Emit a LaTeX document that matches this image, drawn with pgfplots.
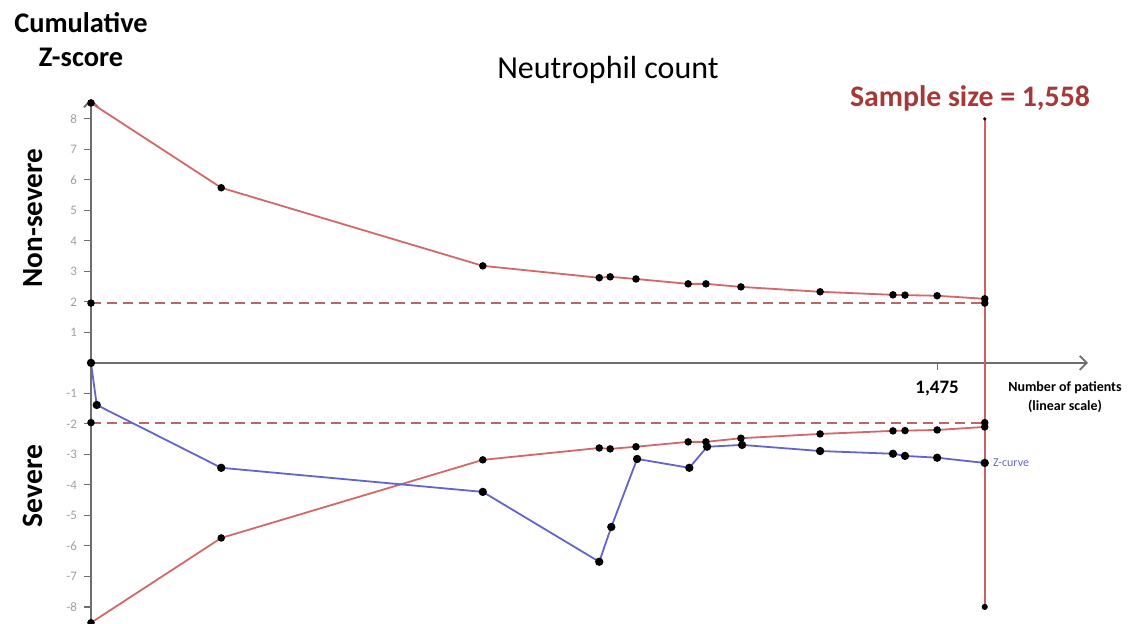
\documentclass[border=0pt]{standalone}
\usepackage{pgfplots}
\pgfplotsset{compat=1.18}
\usepackage{fontspec}
\setmainfont{Carlito}
\usetikzlibrary{arrows.meta}
\definecolor{bound}{RGB}{212,104,104}
\definecolor{dashred}{RGB}{188,104,104}
\definecolor{zc}{RGB}{100,100,206}
\definecolor{vline}{RGB}{204,96,96}
\definecolor{ss}{RGB}{166,56,56}
\definecolor{axgray}{RGB}{110,110,110}
\begin{document}
\begin{tikzpicture}
\useasboundingbox (0,0) rectangle (568.5pt,312pt);
\begin{axis}[
  at={(45.5pt,0pt)}, anchor=south west,
  scale only axis, width=498.5pt, height=262.5pt,
  xmin=0, xmax=1738, ymin=-8.56, ymax=8.65,
  axis lines=middle, clip=false, enlargelimits=false,
  axis line style={-{Straight Barb[length=3.5pt,width=7pt]}, draw=axgray, line width=0.9pt},
  ytick={-8,-7,-6,-5,-4,-3,-2,-1,1,2,3,4,5,6,7,8},
  xtick={1475}, xticklabels={\textbf{1,475}},
  xticklabel style={font=\fontsize{9.5}{10}\selectfont, yshift=-2pt},
  yticklabel style={font=\fontsize{6.5}{7}\selectfont, text=gray!75},
  /pgf/number format/assume math mode=true,
  tick align=outside, major tick length=3.5pt,
  tick style={draw=axgray, line width=0.6pt},
]
% dashed significance lines
\addplot[dashred, line width=0.9pt, dash pattern=on 5pt off 3pt, mark=*, mark size=1.4pt, mark options={solid, fill=black, draw=black}]
  coordinates {(0,1.96) (1558,1.96)};
\addplot[dashred, line width=0.9pt, dash pattern=on 5pt off 3pt, mark=*, mark size=1.4pt, mark options={solid, fill=black, draw=black}]
  coordinates {(0,-1.96) (1558,-1.96)};
% vertical sample size line
\addplot[vline, line width=0.8pt] coordinates {(1558,-8) (1558,8)};
\addplot[only marks, mark=*, mark size=1.3pt, mark options={fill=black, draw=black}] coordinates {(1558,-8)};
\addplot[only marks, mark=*, mark size=0.6pt, mark options={fill=black, draw=black}] coordinates {(1558,8)};
% upper boundary
\addplot[bound, line width=0.9pt, mark=*, mark size=1.4pt, mark options={fill=black, draw=black}]
  coordinates {(0,8.52) (227,5.74) (683,3.18) (886,2.79) (905,2.82) (950,2.75) (1041,2.59) (1072,2.59) (1133,2.49) (1271,2.33) (1398,2.23) (1419,2.22) (1475,2.20) (1558,2.10)};
% lower boundary
\addplot[bound, line width=0.9pt, mark=*, mark size=1.4pt, mark options={fill=black, draw=black}]
  coordinates {(0,-8.52) (227,-5.74) (683,-3.18) (886,-2.79) (905,-2.82) (950,-2.75) (1041,-2.59) (1072,-2.59) (1133,-2.47) (1271,-2.33) (1398,-2.23) (1419,-2.22) (1475,-2.20) (1558,-2.10)};
% Z-curve
\addplot[zc, line width=0.9pt, mark=*, mark size=1.6pt, mark options={fill=black, draw=black}]
  coordinates {(0,0) (10,-1.38) (227,-3.44) (683,-4.23) (886,-6.52) (907,-5.38) (952,-3.15) (1043,-3.44) (1074,-2.75) (1135,-2.69) (1271,-2.89) (1398,-2.98) (1419,-3.05) (1475,-3.11) (1558,-3.28)};
\end{axis}
\node[font=\bfseries\fontsize{14.2}{17}\selectfont, align=center] at (40.5pt,292pt) {Cumulative\\Z-score};
\node[font=\fontsize{16}{18}\selectfont] at (304pt,277pt) {Neutrophil count};
\node[font=\bfseries\fontsize{14.9}{17}\selectfont, text=ss] at (485pt,263pt) {Sample size = 1,558};
\node[font=\bfseries\fontsize{14.6}{17}\selectfont, rotate=90] at (16.5pt,203pt) {Non-severe};
\node[font=\bfseries\fontsize{14.8}{17}\selectfont, rotate=90] at (16.5pt,69pt) {Severe};
\node[font=\bfseries\fontsize{7}{9.5}\selectfont, align=center] at (532.5pt,113.5pt) {Number of patients\\(linear scale)};
\node[font=\fontsize{6}{7}\selectfont, text=zc, anchor=west] at (493pt,80.5pt) {Z-curve};
\end{tikzpicture}
\end{document}
